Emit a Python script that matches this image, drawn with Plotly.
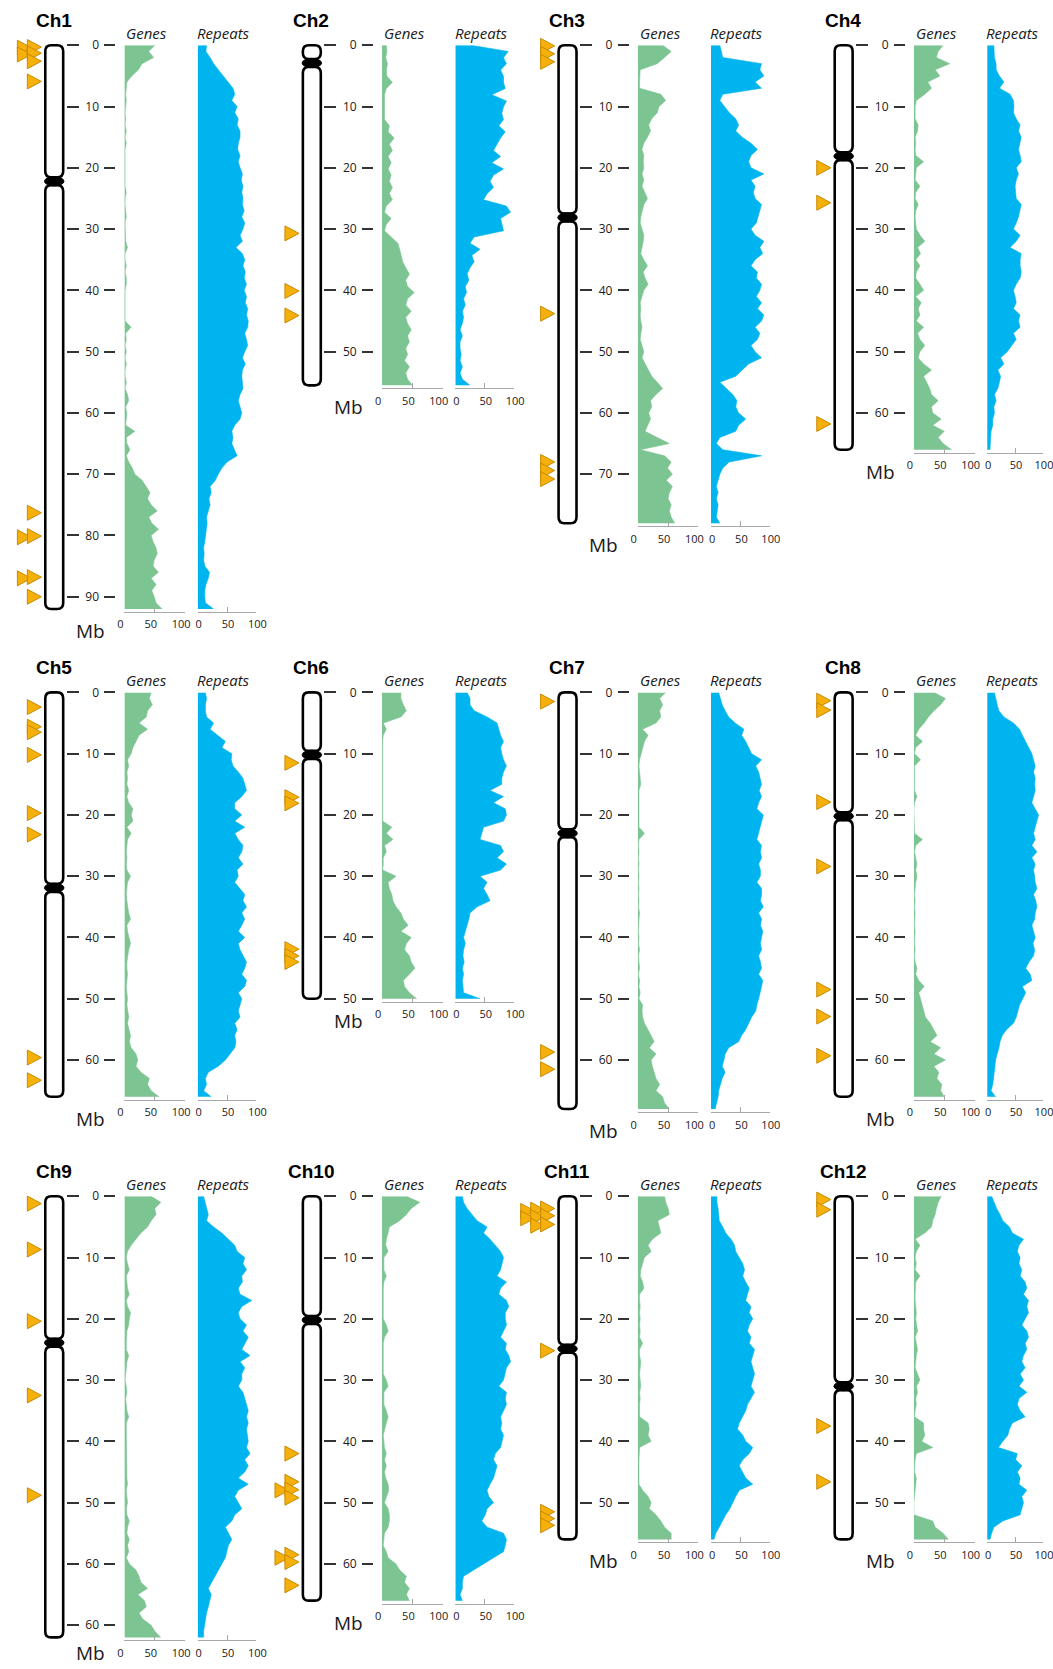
import numpy as np
import plotly.graph_objects as go

W, H = 1053, 1669
# the photographed page shows up very slightly shrunk and offset; these constants
# compensate so that marks land where they are in the reference picture
PHOTO_SX, PHOTO_OX = 0.98805, 1.07
PHOTO_SY, PHOTO_OY = 0.9925, 7.7

# ---------------- data ----------------
chrom_names = ["Ch1", "Ch2", "Ch3", "Ch4", "Ch5", "Ch6",
               "Ch7", "Ch8", "Ch9", "Ch10", "Ch11", "Ch12"]
chrom_lengths = [92, 55.5, 78, 66, 66, 50, 68, 66, 72, 66, 56, 56]
centromeres = [22.2, 2.9, 28.1, 18.1, 31.9, 10.2, 23.0, 20.2, 23.9, 20.2, 24.9, 31.0]

# Mb tick labels that differ from the default (the original labels Ch9's 70 Mb tick as "60")
ch9_tick_labels = ["0", "10", "20", "30", "40", "50", "60", "60"]
x_tick_values = [0, 50, 100]

# % of each 1-Mb window (window 0 = 0 Mb)
genes_ch1 = [50,40,48,29,23,12,4,3,2,3, 2,1,2,1,3,1,3,1,1,1, 1,1,1,1,3,1,1,2,3,1,
             1,1,2,5,1,1,3,1,3,3, 1,1,1,2,1,1,11,2,3,1, 3,1,3,1,1,3,1,5,7,2,
             4,3,2,17,3,4,9,3,7,13, 17,29,35,42,38,44,54,40,45,56, 44,47,52,54,49,47,56,44,52,45,
             49,52,62]
repeats_ch1 = [15,14,21,27,35,43,52,60,63,58, 67,63,69,67,72,72,69,68,72,69, 72,76,74,77,75,77,76,79,75,80,
               77,72,76,65,76,80,77,81,79,83, 79,83,81,85,83,86,85,80,83,85, 80,76,81,76,75,76,77,72,69,72,
               75,72,63,58,60,58,63,67,50,41, 35,30,21,23,19,21,18,15,16,15, 13,12,10,11,10,12,20,18,14,12,
               12,13,27]
genes_ch2 = [7,8,6,9,7,8,17,7,4,4, 4,5,4,12,10,20,12,17,10,15, 10,15,12,17,12,17,7,4,15,7,
             4,15,26,29,31,34,39,45,39,42, 53,42,39,48,39,42,48,42,45,39, 42,37,45,39,42,50]
repeats_ch2 = [27,90,82,87,77,82,82,85,62,87, 82,79,82,74,85,77,71,65,77,62, 82,65,59,65,54,48,87,94,77,79,
               82,32,25,42,28,32,25,20,23,17, 19,14,17,12,14,12,8,12,8,8, 10,8,12,8,12,25]
genes_ch3 = [41,55,44,32,4,3,3,3,38,46, 35,32,23,18,21,16,10,7,10,9, 10,7,10,7,12,16,10,7,5,4,
             7,10,9,7,5,10,16,9,12,17, 10,7,4,5,4,5,7,5,4,7, 10,7,12,18,23,32,41,30,21,23,
             18,21,16,12,32,52,4,44,55,49, 57,47,57,52,50,55,52,55,61]
repeats_ch3 = [15,18,20,86,83,90,75,86,20,15, 23,31,42,47,42,53,68,79,68,64, 68,90,68,75,72,75,86,83,81,77,
               68,75,90,83,88,75,68,79,77,86, 83,77,86,79,90,86,75,83,79,68, 75,86,64,53,42,15,26,37,44,42,
               47,59,47,42,15,9,20,86,31,20, 15,12,9,12,9,12,10,9,15]
genes_ch4 = [48,40,37,59,35,43,23,29,18,4, 2,2,2,7,6,2,3,2,3,16, 4,3,2,10,3,2,7,3,2,3,
             4,10,18,6,11,3,10,4,3,10, 16,3,12,7,10,4,16,6,10,18, 10,7,16,29,16,21,26,29,40,29,
             31,45,31,50,40,48,62]
repeats_ch4 = [12,13,13,16,16,22,30,22,41,47, 48,47,52,59,56,61,59,56,59,61, 52,56,52,50,51,52,61,59,56,52,
               47,59,52,41,61,59,59,61,59,52, 47,50,52,47,59,56,59,47,52,44, 36,24,30,19,24,22,19,13,16,12,
               13,10,10,7,6,6,5]
genes_ch5 = [44,41,46,38,36,24,38,24,19,14, 11,5,7,4,5,4,7,4,7,14, 11,14,4,11,5,4,3,4,3,4,
             10,5,4,3,4,5,7,10,4,5, 8,10,7,5,4,4,5,4,3,4, 5,4,5,7,5,8,10,8,11,19,
             22,19,27,41,38,44,57]
repeats_ch5 = [13,15,13,13,15,27,21,35,47,41, 58,57,60,69,77,80,83,75,63,63, 75,63,80,63,69,77,75,69,77,67,
               69,63,72,80,77,83,75,80,75,69, 80,69,72,77,83,80,75,83,80,69, 75,72,69,72,63,67,63,65,63,55,
               47,35,18,13,15,10,23]
genes_ch6 = [31,31,35,40,31,2,7,2,1,1, 1,1,1,1,1,1,1,1,1,1, 1,1,16,7,18,4,7,2,2,1,
             23,10,12,16,18,23,31,35,43,31, 48,40,37,45,48,54,45,35,37,45, 57]
repeats_ch6 = [20,25,25,32,54,71,74,77,82,77, 79,82,87,82,79,79,59,82,65,85, 87,82,48,45,42,77,82,71,87,77,
               42,54,48,54,59,37,25,23,20,17, 14,17,14,13,15,12,14,12,13,14, 42]
genes_ch7 = [46,36,41,36,38,30,8,17,11,8, 5,3,2,3,3,5,2,2,1,1, 1,1,2,11,2,1,2,1,2,1,
             2,1,2,1,2,1,3,2,1,1, 2,1,3,1,2,3,1,3,2,4, 2,8,7,8,11,17,22,27,19,30,
             22,24,27,30,36,30,41,44,52]
repeats_ch7 = [13,16,19,24,30,41,56,52,59,64, 69,86,76,81,84,86,82,86,81,78, 89,86,84,81,78,86,84,86,81,84,
               84,78,86,86,84,89,81,86,84,88, 86,84,86,81,84,86,81,88,86,84, 81,78,76,69,64,59,52,47,30,24,
               22,19,24,19,16,13,12,10,7]
genes_ch8 = [33,52,44,33,24,17,8,3,14,3, 1,11,1,1,1,1,1,5,1,0, 0,1,0,1,14,3,1,3,5,3,
             5,3,2,1,2,1,2,1,1,2, 1,1,2,1,2,5,3,8,17,8, 11,14,17,19,27,33,38,27,44,33,
             52,33,41,38,46,44,50]
repeats_ch8 = [13,15,18,21,30,47,58,63,69,75, 80,83,86,83,86,85,86,83,80,86, 92,89,86,83,86,80,89,80,86,83,
               85,86,89,83,87,89,86,85,80,83, 86,82,85,83,75,69,77,80,63,69, 63,58,55,52,47,35,27,23,21,18,
               15,14,13,12,10,7,15]
genes_ch9 = [44,60,50,52,44,38,27,19,11,5, 3,5,8,3,4,5,8,3,5,10, 8,7,4,3,3,3,7,4,3,1,
             1,3,4,2,3,4,7,3,3,3, 3,3,3,3,3,3,4,5,3,4, 5,3,4,8,5,4,8,5,7,3,
             8,19,24,27,38,22,33,36,24,30, 44,50,60]
repeats_ch9 = [10,13,15,18,15,27,41,52,63,67, 80,77,83,75,76,69,72,92,75,69, 72,83,77,86,80,75,89,72,80,75,
               75,69,77,80,83,86,83,86,83,85, 86,83,89,80,86,80,69,86,69,63, 69,75,63,58,47,52,58,52,50,47,
               41,35,30,23,18,23,21,18,15,13, 12,10,10]
genes_ch10 = [40,62,48,40,29,12,10,7,6,10, 3,3,3,7,3,2,2,2,2,2, 2,7,10,4,2,2,2,2,2,2,
              7,10,3,3,3,7,10,7,4,2, 3,4,7,4,7,4,6,10,11,7, 4,10,12,12,10,4,3,2,7,10,
              23,29,40,37,45,40,45]
repeats_ch10 = [12,14,20,28,37,54,48,59,68,77, 82,79,77,71,87,77,74,87,91,85, 85,87,82,77,87,85,91,94,87,85,
                82,74,87,85,87,82,77,79,77,82, 79,77,68,65,71,68,65,59,54,57, 65,54,51,45,54,82,87,85,82,65,
                48,32,14,12,12,8,12]
genes_ch11 = [44,46,50,52,33,36,38,24,17,22, 11,8,5,4,8,10,3,3,4,3, 4,3,4,3,8,3,3,5,4,3,
              4,5,3,4,3,3,3,17,19,17, 22,3,2,2,2,2,2,2,8,17, 22,19,30,38,44,55,55]
repeats_ch11 = [10,10,12,13,14,20,25,34,40,42, 48,54,57,54,59,65,62,59,68,65, 71,65,62,68,65,74,71,68,71,74,
                71,68,74,68,62,59,54,48,45,54, 59,71,65,54,48,54,59,71,48,42, 37,32,25,20,14,8,5]
genes_ch12 = [45,40,37,35,31,29,18,2,10,4, 2,4,2,10,3,2,2,2,3,4, 3,4,6,2,4,6,4,3,2,6,
              10,4,6,3,4,2,1,16,16,18, 13,31,4,2,1,1,4,3,1,0, 0,0,0,31,35,48,57]
repeats_ch12 = [8,12,17,23,28,40,45,65,57,54, 59,57,62,59,68,71,65,74,71,74, 68,62,71,74,68,71,65,62,68,59,
                65,57,71,57,54,59,68,45,40,37, 28,20,54,51,62,54,59,57,71,62, 65,62,59,28,12,8,5]

# marker (triangle) positions in Mb
markers_ch1 = [0.3, 0.4, 1.3, 1.5, 2.6, 5.9, 76.3, 80.1, 80.3, 86.8, 87.0, 90.0]
markers_ch2 = [30.7, 40.1, 44.1]
markers_ch3 = [0.1, 1.4, 2.7, 43.8, 68.0, 69.4, 70.8]
markers_ch4 = [20.0, 25.7, 61.8]
markers_ch5 = [2.4, 5.6, 6.5, 10.2, 19.7, 23.2, 59.6, 63.3]
markers_ch6 = [11.5, 17.1, 18.1, 41.9, 43.0, 44.0]
markers_ch7 = [1.5, 58.7, 61.5]
markers_ch8 = [1.35, 2.9, 17.9, 28.4, 48.5, 52.9, 59.3]
markers_ch9 = [1.2, 8.7, 20.4, 32.5, 48.8]
markers_ch10 = [42.0, 46.6, 47.9, 48.0, 49.2, 58.5, 59.0, 59.7, 63.5]
markers_ch11 = [2.0, 2.2, 2.4, 3.2, 3.4, 3.6, 4.6, 4.8, 25.2, 51.5, 52.6, 53.7]
markers_ch12 = [0.55, 2.2, 37.5, 46.6]

genes = [genes_ch1, genes_ch2, genes_ch3, genes_ch4, genes_ch5, genes_ch6,
         genes_ch7, genes_ch8, genes_ch9, genes_ch10, genes_ch11, genes_ch12]
repeats = [repeats_ch1, repeats_ch2, repeats_ch3, repeats_ch4, repeats_ch5, repeats_ch6,
           repeats_ch7, repeats_ch8, repeats_ch9, repeats_ch10, repeats_ch11, repeats_ch12]
markers = [markers_ch1, markers_ch2, markers_ch3, markers_ch4, markers_ch5, markers_ch6,
           markers_ch7, markers_ch8, markers_ch9, markers_ch10, markers_ch11, markers_ch12]
tick_label_overrides = {8: ch9_tick_labels}

# ---------------- style / layout ----------------
GREEN = "#7cc492"
BLUE = "#00b4ef"
TRI_FILL = "#f5b00c"
TRI_LINE = "#c98a00"
TXT = "#1a1a1a"

COL_X = [0.0, 258.7, 515.5, 792.8]
ROW_Y0 = [44.0, 691.7, 1196.0]
MB_PX = 6.133                        # pixels per Mb in the reference picture
IDEO_W = 60.0
IDEO_X0, IDEO_X1 = 39.5, 57.5
IDEO_TOP_PAD = 1.6          # Mb of room above 0 so top triangles are not clipped
TRI_X, TRI_W, TRI_H, TRI_DODGE = 21.5, 14, 15, 10
MB_AXIS_X = 110.0
GENES_X = (119.0, 180.0)
REP_X = (192.6, 251.6)


def page_x(p):
    return (p - PHOTO_OX) / PHOTO_SX


def page_y(p):
    return (p - PHOTO_OY) / PHOTO_SY


def fx(p):
    return min(1.0, max(0.0, page_x(p) / W))


def fy(p):
    return min(1.0, max(0.0, 1 - page_y(p) / H))


def tname(kind, n):
    return kind if n == 1 else f"{kind}{n}"


def lkey(kind, n):
    return f"{kind}axis" if n == 1 else f"{kind}axis{n}"


def rrect(x0, x1, y0, y1, rx, ry):
    return (f"M{x0},{y0 + ry} Q{x0},{y0} {x0 + rx},{y0} L{x1 - rx},{y0} Q{x1},{y0} {x1},{y0 + ry} "
            f"L{x1},{y1 - ry} Q{x1},{y1} {x1 - rx},{y1} L{x0 + rx},{y1} Q{x0},{y1} {x0},{y1 - ry} Z")


def dodge(positions, min_gap=0.6):
    placed, out = [], []
    for p in sorted(positions):
        k = 0
        while k < len(placed) and any(abs(p - q) < min_gap for q in placed[k]):
            k += 1
        if k == len(placed):
            placed.append([])
        placed[k].append(p)
        out.append((p, k))
    return out


def bar_axis(x0, x1, anchor, shift):
    return dict(domain=[fx(x0), fx(x1)], range=[0, 100],
                anchor=anchor, tickvals=x_tick_values, ticks="inside",
                ticklen=5, tickwidth=1.2, tickcolor="#a8a8a8", showline=True, linecolor="#a8a8a8",
                linewidth=1.4, showgrid=False, zeroline=False, fixedrange=True,
                ticklabelstandoff=2, ticklabelshift=shift, ticklabeloverflow="allow",
                tickfont=dict(family="Open Sans", size=11, color=TXT))


fig = go.Figure()
layout = {}
shapes = []
annotations = []

for i in range(12):
    r, c = divmod(i, 4)
    cx, y0 = COL_X[c], ROW_Y0[r]
    L, cen = chrom_lengths[i], centromeres[i]
    ymax = L + 0.5
    ybot = y0 + ymax * MB_PX
    ydom = [fy(ybot), fy(y0)]
    yr = [ymax, 0]
    tickvals = list(range(0, int(L) + 1, 10))
    ticktext = tick_label_overrides.get(i, [str(v) for v in tickvals])
    ni, ng, nr = 3 * i + 1, 3 * i + 2, 3 * i + 3

    # ideogram subplot (x in page-pixel units relative to the panel's left edge)
    px0 = page_x(cx)
    ixl = max(0.0, px0)
    ixr = page_x(cx + IDEO_W)
    layout[lkey("x", ni)] = dict(domain=[ixl / W, ixr / W], range=[ixl - px0, ixr - px0],
                                 visible=False, anchor=tname("y", ni), fixedrange=True)
    layout[lkey("y", ni)] = dict(domain=[fy(ybot), fy(y0 - IDEO_TOP_PAD * MB_PX)],
                                 range=[ymax, -IDEO_TOP_PAD], anchor=tname("x", ni), side="right",
                                 ticks="outside", ticklen=12, tickwidth=1.5, tickcolor="#333",
                                 tickvals=tickvals, showticklabels=False, showgrid=False,
                                 zeroline=False, showline=False, fixedrange=True)
    # genes subplot; its y axis carries the Mb labels
    layout[lkey("x", ng)] = bar_axis(cx + GENES_X[0], cx + GENES_X[1], tname("y", ng), -4)
    layout[lkey("y", ng)] = dict(domain=ydom, range=yr, anchor="free",
                                 position=fx(cx + MB_AXIS_X), side="left", ticks="outside",
                                 ticklen=11, tickwidth=1.5, tickcolor="#333", tickvals=tickvals,
                                 ticktext=ticktext, ticklabelstandoff=3, showgrid=False,
                                 zeroline=False, showline=False, fixedrange=True,
                                 tickfont=dict(family="Open Sans", size=12, color=TXT))
    # repeats subplot
    layout[lkey("x", nr)] = bar_axis(cx + REP_X[0], cx + REP_X[1], tname("y", nr), 1)
    layout[lkey("y", nr)] = dict(domain=ydom, range=yr, anchor=tname("x", nr), showticklabels=False,
                                 ticks="", showgrid=False, zeroline=False, showline=False,
                                 fixedrange=True)

    # traces
    fig.add_trace(go.Scatter(x=[(IDEO_X0 + IDEO_X1) / 2] * 2, y=[0, L], mode="markers",
                             marker=dict(opacity=0), hoverinfo="skip",
                             xaxis=tname("x", ni), yaxis=tname("y", ni)))
    g = genes[i]
    pos_g = np.linspace(0, L, len(g))
    fig.add_trace(go.Scatter(x=g, y=pos_g, mode="lines", line=dict(color=GREEN, width=0.6),
                             fill="tozerox", fillcolor=GREEN, hoverinfo="skip",
                             xaxis=tname("x", ng), yaxis=tname("y", ng)))
    rp = repeats[i]
    pos_r = np.linspace(0, L, len(rp))
    fig.add_trace(go.Scatter(x=rp, y=pos_r, mode="lines", line=dict(color=BLUE, width=0.6),
                             fill="tozerox", fillcolor=BLUE, hoverinfo="skip",
                             xaxis=tname("x", nr), yaxis=tname("y", nr)))

    # ideogram shapes
    xr, yref = tname("x", ni), tname("y", ni)
    ix0, ix1 = page_x(cx + IDEO_X0) - px0, page_x(cx + IDEO_X1) - px0
    rx, ry = 6.0, 6.0 / MB_PX
    gap = 0.65
    for a0, a1 in [(0, cen - gap), (cen + gap, L)]:
        shapes.append(dict(type="path", xref=xr, yref=yref,
                           path=rrect(ix0, ix1, a0, a1, rx, min(ry, (a1 - a0) / 2)),
                           fillcolor="white", line=dict(color="black", width=2.6), layer="above"))
    shapes.append(dict(type="circle", xref=xr, yref=yref, x0=ix0 - 0.8, x1=ix1 + 0.8,
                       y0=cen - 0.75, y1=cen + 0.75, fillcolor="black",
                       line=dict(color="black", width=1), layer="above"))
    # triangles
    placed = dodge(markers[i])
    for p, k in sorted(placed, key=lambda t: -t[1]):
        shapes.append(dict(type="path", xref=xr, yref=yref, xsizemode="pixel", ysizemode="pixel",
                           xanchor=page_x(cx + TRI_X - TRI_DODGE * k) - px0, yanchor=p,
                           path=f"M0,{-TRI_H / 2} L{TRI_W},0 L0,{TRI_H / 2} Z",
                           fillcolor=TRI_FILL, line=dict(color=TRI_LINE, width=1), layer="above"))

    # annotations
    annotations.append(dict(text=f"<b>{chrom_names[i]}</b>", x=fx(cx + 48), y=fy(y0 - 25),
                            xref="paper", yref="paper", showarrow=False, xanchor="center",
                            yanchor="middle", font=dict(family="Liberation Sans", size=19, color="black")))
    annotations.append(dict(text="<i>Genes</i>", x=fx(cx + 141.5), y=fy(y0 - 12),
                            xref="paper", yref="paper", showarrow=False, xanchor="center",
                            yanchor="middle", font=dict(family="Open Sans", size=15, color=TXT)))
    annotations.append(dict(text="<i>Repeats</i>", x=fx(min(cx + 218.5, 1012)), y=fy(y0 - 12),
                            xref="paper", yref="paper", showarrow=False, xanchor="center",
                            yanchor="middle", font=dict(family="Open Sans", size=15, color=TXT)))
    mb_y = min(ybot + 19, 1653)
    annotations.append(dict(text="Mb", x=fx(cx + 85), y=fy(mb_y),
                            xref="paper", yref="paper", showarrow=False, xanchor="center",
                            yanchor="middle", font=dict(family="Open Sans", size=19, color=TXT)))

fig.update_layout(**layout)
fig.update_layout(width=W, height=H, margin=dict(l=0, r=0, t=0, b=0, pad=0),
                  paper_bgcolor="white", plot_bgcolor="rgba(0,0,0,0)", showlegend=False,
                  hovermode=False, shapes=shapes, annotations=annotations)

fig.write_html("out.html", config={"displayModeBar": False},
               post_script="document.body.style.margin='0px';"
                           "document.documentElement.style.overflow='hidden';")
